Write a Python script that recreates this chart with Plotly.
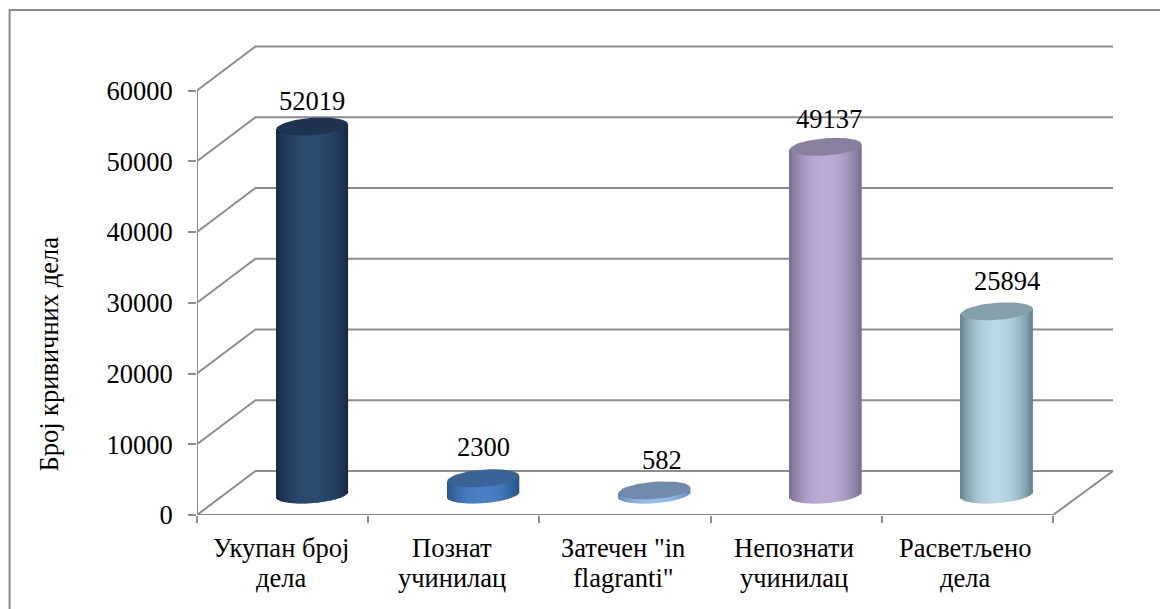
import numpy as np
import plotly.graph_objects as go

categories = [["Укупан број", "дела"], ["Познат", "учинилац"], ['Затечен "in', 'flagranti"'],
              ["Непознати", "учинилац"], ["Расветљено", "дела"]]
values = [52019, 2300, 582, 49137, 25894]
y_ticks = [0, 10000, 20000, 30000, 40000, 50000, 60000]
axis_title = "Број кривичних дела"

edge_colors = [(24, 42, 66), (40, 84, 136), (100, 135, 185), (122, 110, 142), (100, 132, 143)]
mid_colors = [(43, 74, 112), (74, 128, 196), (150, 190, 235), (188, 170, 214), (184, 216, 228)]
top_colors = ["#1d3350", "#3a6496", "#7389ab", "#8b7fa0", "#84a0a8"]
label_dx = [0, 0, 7, 3, 10]
label_dy = [25, 31, 30, 28, 30]

FONT = "Liberation Serif"
FS = 26.5
GRID = "#8c8c8c"
W, H = 1160, 609
X0, Y0 = 196.5, 515.0      # pixel of the axis origin
PX_X, PX_Y = 171.3, 70.75 / 10000
XR, YT = 1115.0, 44.0
xmax = (XR - X0) / PX_X
ymax = (Y0 - YT) / PX_Y
xend = (1113.0 - X0) / PX_X
depth_x, depth_y = 58.5 / PX_X, 44 / PX_Y
bar_dx, bar_dy = 29.5 / PX_X, 20.5 / PX_Y
half_w, half_h, tilt = 35.8 / PX_X, 8.6 / PX_Y, 2.6 / PX_Y

fig = go.Figure()

# cylinder bodies
N = 48
xs, bases, heights, colors = [], [], [], []
for i, v in enumerate(values):
    cx = i + 0.5 + bar_dx
    for k in range(N):
        u = -1 + (2 * k + 1) / N
        xs.append(cx + u * half_w)
        low = bar_dy + tilt * u - half_h * np.sqrt(1 - u * u)
        high = bar_dy + v + tilt * u
        bases.append(low)
        heights.append(high - low)
        s = 1 - abs(u) ** 2.2
        colors.append("rgb(%d,%d,%d)" % tuple(
            round(e + (m - e) * s) for e, m in zip(edge_colors[i], mid_colors[i])))
fig.add_trace(go.Bar(x=xs, y=heights, base=bases, width=2 * half_w / N * 1.3,
                     marker=dict(color=colors, line=dict(width=0)), hoverinfo="skip", showlegend=False))

# cylinder tops
t = np.linspace(0, 2 * np.pi, 73)
for i, v in enumerate(values):
    cx = i + 0.5 + bar_dx
    fig.add_trace(go.Scatter(
        x=cx + half_w * np.cos(t),
        y=bar_dy + v + tilt * np.cos(t) + half_h * np.sin(t),
        mode="lines", fill="toself", fillcolor=top_colors[i], line=dict(width=0),
        hoverinfo="skip", showlegend=False))

# walls and gridlines
shapes = []
line = dict(color=GRID, width=2)
for v in y_ticks:
    shapes.append(dict(type="path", xref="x", yref="y", layer="below", line=line,
                       path=f"M0,{v} L{depth_x},{v + depth_y} L{xend},{v + depth_y}"))
shapes.append(dict(type="path", xref="x", yref="y", layer="below", line=line,
                   path=f"M{xend},{depth_y} L{len(values)},0 L0,0"))
shapes.append(dict(type="line", xref="x", yref="y", layer="below", line=line,
                   x0=0, x1=0, y0=0, y1=y_ticks[-1]))
# outer frame: left and top edges only
shapes.append(dict(type="path", xref="paper", yref="paper", line=dict(color="#8a8a8a", width=2),
                   path=f"M{(9 - X0) / (XR - X0)},{(Y0 - 609) / (Y0 - YT)} "
                        f"L{(9 - X0) / (XR - X0)},{(Y0 - 10) / (Y0 - YT)} "
                        f"L{(1160 - X0) / (XR - X0)},{(Y0 - 10) / (Y0 - YT)}"))

ann = []
for i, v in enumerate(values):
    ann.append(dict(x=i + 0.5 + bar_dx, y=bar_dy + v, xref="x", yref="y", text=str(v), showarrow=False,
                    xshift=label_dx[i], yshift=label_dy[i], font=dict(family=FONT, size=FS, color="#000")))
    for j, txt in enumerate(categories[i]):
        ann.append(dict(x=i + 0.5, y=0, xref="x", yref="y", text=txt, showarrow=False,
                        xshift=-2, yshift=-33 - 30 * j, font=dict(family=FONT, size=FS, color="#000")))
ann.append(dict(x=(31 - X0) / (XR - X0), y=(Y0 - 354) / (Y0 - YT), xref="paper", yref="paper",
                text=axis_title, textangle=-90, showarrow=False,
                font=dict(family=FONT, size=FS, color="#000")))

fig.update_layout(
    width=W, height=H, autosize=False, barmode="overlay", showlegend=False,
    paper_bgcolor="white", plot_bgcolor="white",
    margin=dict(l=X0, r=W - XR, t=YT, b=H - Y0, pad=0),
    shapes=shapes, annotations=ann,
    xaxis=dict(range=[0, xmax], showgrid=False, zeroline=False, showline=False, showticklabels=False,
               ticks="", tickvals=[], fixedrange=True,
               minor=dict(tickvals=list(range(len(values) + 1)), ticks="outside", ticklen=7,
                          tickwidth=2, tickcolor=GRID, showgrid=False)),
    yaxis=dict(range=[0, ymax], showgrid=False, zeroline=False, showline=False, tickvals=y_ticks,
               tickformat="d", ticks="outside", ticklen=8, tickwidth=2, tickcolor=GRID,
               ticklabelstandoff=10, fixedrange=True,
               tickfont=dict(family=FONT, size=FS, color="#000")),
)
fig.write_html("out.html", config=dict(displayModeBar=False),
               post_script="document.body.style.margin='0';document.body.style.overflow='hidden';")
